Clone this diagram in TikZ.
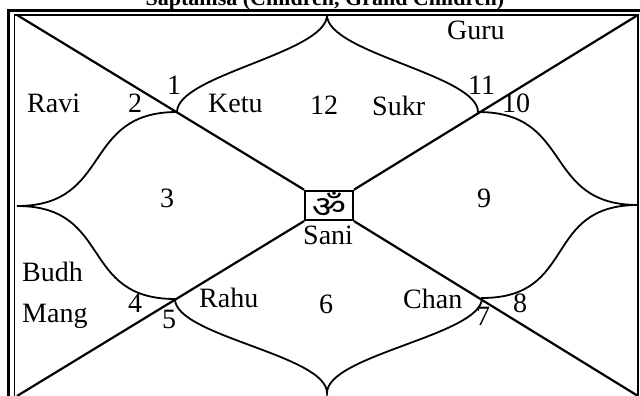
\documentclass[tikz,border=0pt]{standalone}
\usepackage{fontspec}
\usepackage{graphicx}
\setmainfont{Liberation Serif}
\newfontfamily\devfont[Script=Devanagari]{Noto Sans}
\begin{document}
\begin{tikzpicture}[x=1pt,y=-1pt,
  lab/.style={anchor=base west, inner sep=0pt, font=\fontsize{28}{28}\selectfont},
  diag/.style={line width=2.2pt},
  petal/.style={line width=1.8pt},
  frameout/.style={line width=2.5pt},
  framein/.style={line width=1.5pt}]
\useasboundingbox (0,0) rectangle (640,396);
% title
\node[anchor=base, inner sep=0pt, font=\bfseries\fontsize{22}{22}\selectfont] (title) at (325,5.5) {Saptamsa (Children, Grand Children)};
% frame
\draw[frameout] (8.7,10.5) rectangle (645,402);
\draw[framein] (14.5,15) rectangle (638,397);
% corners
\coordinate (tl) at (17,15);
\coordinate (tr) at (638,15);
\coordinate (bl) at (17,396);
\coordinate (br) at (638,396);
% centre box
\node[draw, line width=2pt, minimum width=47.7pt, minimum height=29.3pt, inner sep=0pt] (om) at (329,205.4) {};
\node[inner sep=0pt] (omsym) at ([yshift=0.5pt]om.center) {\devfont\fontsize{30}{30}\selectfont\scalebox{1.25}[1]{ॐ}};
\draw[diag] (tl) -- (om.north west);
\draw[diag] (tr) -- (om.north east);
\draw[diag] (bl) -- (om.south west);
\draw[diag] (br) -- (om.south east);
% petal points
\coordinate (T) at (327,15);
\coordinate (L) at (17,206);
\coordinate (R) at (638,205);
\coordinate (B) at (327,393);
\coordinate (Q1) at (177,112);
\coordinate (Q2) at (478,112);
\coordinate (Q3) at (175,299);
\coordinate (Q4) at (482,298);
\draw[petal] (T) .. controls (327,53) and (177,75) .. (Q1)
  .. controls (81,112) and (113,206) .. (L)
  .. controls (113,206) and (79,299) .. (Q3)
  .. controls (175,336) and (327,355) .. (B)
  .. controls (327,355) and (482,335) .. (Q4)
  .. controls (578,298) and (542,205) .. (R)
  .. controls (542,205) and (574,112) .. (Q2)
  .. controls (478,75) and (327,53) .. (T);
% labels
\node[lab] (guru) at (447,40) {Guru};
\node[lab] (ravi) at (27,112) {Ravi};
\node[lab] (h2) at (128,112) {2};
\node[lab] (h1) at (167,94) {1};
\node[lab] (ketu) at (208,112.5) {Ketu};
\node[lab] (h12) at (310,114) {12};
\node[lab] (sukr) at (372,115) {Sukr};
\node[lab] (h11) at (468,94) {11};
\node[lab] (h10) at (502,112) {10};
\node[lab] (h3) at (160,207) {3};
\node[lab] (h9) at (477,207) {9};
\node[lab] (sani) at (303,244) {Sani};
\node[lab] (budh) at (22,281) {Budh};
\node[lab] (mang) at (22,322) {Mang};
\node[lab] (h4) at (128,312) {4};
\node[lab] (h5) at (162,328) {5};
\node[lab] (rahu) at (199,307) {Rahu};
\node[lab] (h6) at (319,313) {6};
\node[lab] (chan) at (403,308) {Chan};
\node[lab] (h7) at (476,325) {7};
\node[lab] (h8) at (513,312) {8};
\end{tikzpicture}
\end{document}
